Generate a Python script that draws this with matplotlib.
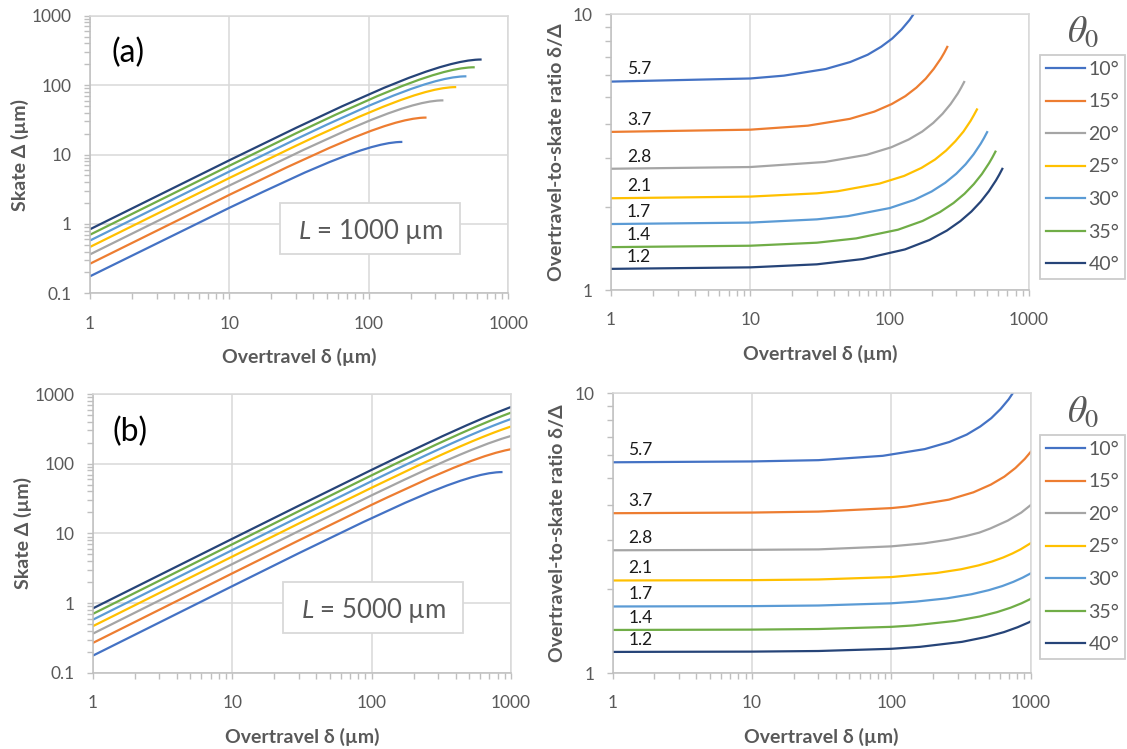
import matplotlib
matplotlib.use("Agg")
import matplotlib.pyplot as plt
from matplotlib.patches import Rectangle
from matplotlib.ticker import FixedLocator, FixedFormatter, LogLocator, NullFormatter

plt.rcParams['font.family'] = ['Lato', 'DejaVu Sans']
plt.rcParams['mathtext.fontset'] = 'custom'
plt.rcParams['mathtext.it'] = 'Lato:italic'
plt.rcParams['mathtext.rm'] = 'Lato'

# ---------------- data ----------------
angles = ["10°", "15°", "20°", "25°", "30°", "35°", "40°"]
colors = ["#4472C4", "#ED7D31", "#A5A5A5", "#FFC000", "#5B9BD5", "#70AD47", "#264478"]
ratio_labels = ["5.7", "3.7", "2.8", "2.1", "1.7", "1.4", "1.2"]

# panel (a): L = 1000 um
delta_a = [
    [1, 10, 17.4, 34.7, 52.1, 69.5, 86.8, 104.2, 121.6, 138.9, 156.3, 165.0, 173.6],
    [1, 10, 25.9, 51.8, 77.6, 103.5, 129.4, 155.3, 181.2, 207.1, 232.9, 245.9, 258.8],
    [1, 10, 34.2, 68.4, 102.6, 136.8, 171.0, 205.2, 239.4, 273.6, 307.8, 324.9, 342.0],
    [1, 10, 30, 42.3, 84.5, 126.8, 169.0, 211.3, 253.6, 295.8, 338.1, 380.4, 401.5, 422.6],
    [1, 10, 30, 50, 100, 150, 200, 250, 300, 350, 400, 450, 475, 500],
    [1, 10, 30, 57.4, 114.7, 172.1, 229.4, 286.8, 344.1, 401.5, 458.9, 516.2, 544.9, 573.6],
    [1, 10, 30, 64.3, 128.6, 192.8, 257.1, 321.4, 385.7, 450.0, 514.2, 578.5, 610.6, 642.8],
]
skate_a = [
    [0.176, 1.71, 2.90, 5.50, 7.78, 9.75, 11.42, 12.78, 13.83, 14.59, 15.04, 15.15, 15.19],
    [0.267, 2.63, 6.57, 12.40, 17.53, 21.94, 25.67, 28.70, 31.06, 32.73, 33.74, 33.99, 34.07],
    [0.364, 3.58, 11.75, 22.15, 31.23, 39.03, 45.58, 50.91, 55.03, 57.97, 59.72, 60.16, 60.31],
    [0.466, 4.60, 13.39, 18.53, 34.80, 48.93, 61.01, 71.11, 79.30, 85.62, 90.11, 92.80, 93.47, 93.69],
    [0.577, 5.70, 16.64, 27.00, 50.49, 70.73, 87.91, 102.22, 113.77, 122.66, 128.96, 132.72, 133.66, 133.98],
    [0.699, 6.91, 20.22, 37.31, 69.36, 96.71, 119.76, 138.84, 154.17, 165.93, 174.25, 179.20, 180.44, 180.85],
    [0.838, 8.28, 24.21, 49.63, 91.61, 127.01, 156.59, 180.90, 200.34, 215.19, 225.66, 231.89, 233.44, 233.96],
]
ratio_a = [
    [5.69, 5.84, 5.98, 6.32, 6.70, 7.12, 7.61, 8.15, 8.79, 9.52, 10.39, 10.89, 11.43],
    [3.74, 3.81, 3.94, 4.17, 4.43, 4.72, 5.04, 5.41, 5.83, 6.33, 6.90, 7.23, 7.60],
    [2.75, 2.79, 2.91, 3.09, 3.29, 3.51, 3.75, 4.03, 4.35, 4.72, 5.15, 5.40, 5.67],
    [2.15, 2.18, 2.24, 2.28, 2.43, 2.59, 2.77, 2.97, 3.20, 3.46, 3.75, 4.10, 4.30, 4.51],
    [1.734, 1.755, 1.803, 1.852, 1.981, 2.121, 2.275, 2.446, 2.637, 2.853, 3.102, 3.391, 3.554, 3.732],
    [1.430, 1.447, 1.484, 1.538, 1.654, 1.779, 1.916, 2.066, 2.232, 2.420, 2.633, 2.881, 3.020, 3.172],
    [1.193, 1.208, 1.239, 1.295, 1.403, 1.518, 1.642, 1.777, 1.925, 2.091, 2.279, 2.495, 2.616, 2.748],
]

# panel (b): L = 5000 um
delta_b = [
    [1, 10, 30, 86.8, 173.6, 260.5, 347.3, 434.1, 520.9, 607.7, 694.6, 781.4, 824.8, 868.2],
    [1, 10, 30, 100, 129.4, 258.8, 388.2, 517.6, 647.0, 776.5, 905.9, 1000],
    [1, 10, 30, 100, 171.0, 256.5, 342.0, 427.5, 513.0, 684.0, 855.1, 1000],
    [1, 10, 30, 100, 211.3, 317.0, 422.6, 528.3, 633.9, 739.6, 845.2, 1000],
    [1, 10, 30, 100, 150, 250, 375, 500, 625, 750, 875, 1000],
    [1, 10, 30, 100, 143.4, 286.8, 430.2, 573.6, 717.0, 860.4, 1000],
    [1, 10, 30, 100, 160.7, 321.4, 482.1, 642.8, 803.5, 964.2, 1000],
]
skate_b = [
    [0.176, 1.75, 5.20, 14.52, 27.48, 38.89, 48.75, 57.08, 63.89, 69.17, 72.95, 75.21, 75.77, 75.96],
    [0.268, 2.67, 7.94, 25.73, 32.83, 62.02, 87.63, 109.71, 128.33, 143.50, 155.28, 161.71],
    [0.364, 3.63, 10.81, 35.24, 58.76, 85.58, 110.73, 134.24, 156.12, 195.12, 227.88, 250.85],
    [0.466, 4.65, 13.87, 45.32, 92.66, 134.71, 174.02, 210.65, 244.66, 276.11, 305.04, 343.0],
    [0.577, 5.76, 17.18, 56.24, 83.19, 135.02, 195.84, 252.45, 305.0, 353.62, 398.4, 439.57],
    [0.700, 6.98, 20.84, 68.25, 96.75, 186.53, 269.74, 346.78, 417.95, 483.53, 542.25],
    [0.839, 8.37, 24.97, 81.74, 129.29, 248.16, 357.5, 458.04, 550.39, 635.05, 652.96],
]
ratio_b = [
    [5.67, 5.71, 5.77, 5.98, 6.32, 6.70, 7.12, 7.61, 8.15, 8.79, 9.52, 10.39, 10.89, 11.43],
    [3.73, 3.75, 3.78, 3.89, 3.94, 4.17, 4.43, 4.72, 5.04, 5.41, 5.83, 6.18],
    [2.75, 2.76, 2.77, 2.84, 2.91, 3.00, 3.09, 3.18, 3.29, 3.51, 3.75, 3.99],
    [2.145, 2.151, 2.163, 2.206, 2.281, 2.353, 2.429, 2.508, 2.591, 2.679, 2.771, 2.916],
    [1.732, 1.737, 1.746, 1.778, 1.803, 1.852, 1.915, 1.981, 2.049, 2.121, 2.196, 2.275],
    [1.428, 1.432, 1.439, 1.465, 1.482, 1.538, 1.595, 1.654, 1.715, 1.779, 1.844],
    [1.192, 1.195, 1.201, 1.223, 1.243, 1.295, 1.349, 1.403, 1.460, 1.518, 1.532],
]

x_ticks = [1, 10, 100, 1000]
x_ticklabels = ["1", "10", "100", "1000"]
skate_ticks = [0.1, 1, 10, 100, 1000]
skate_ticklabels = ["0.1", "1", "10", "100", "1000"]
ratio_ticks = [1, 10]
ratio_ticklabels = ["1", "10"]

# ---------------- style ----------------
GRID = "#d9d9d9"
AXC = "#bfbfbf"
TXT = "#595959"

fig = plt.figure(figsize=(11.27, 7.49), dpi=100)

ax_tl = fig.add_axes([0.0799, 0.6084, 0.3712, 0.3706])
ax_tr = fig.add_axes([0.5422, 0.6128, 0.3709, 0.3685])
ax_bl = fig.add_axes([0.0823, 0.1017, 0.3712, 0.3722])
ax_br = fig.add_axes([0.5435, 0.1011, 0.3711, 0.3738])


def style_axes(ax, yticks, yticklabels, ylim, ylabel, ylabelpad):
    ax.set_xscale("log")
    ax.set_yscale("log")
    ax.set_xlim(1, 1000)
    ax.set_ylim(*ylim)
    ax.xaxis.set_major_locator(FixedLocator(x_ticks))
    ax.xaxis.set_major_formatter(FixedFormatter(x_ticklabels))
    ax.xaxis.set_minor_locator(LogLocator(base=10, subs=range(2, 10)))
    ax.xaxis.set_minor_formatter(NullFormatter())
    ax.yaxis.set_major_locator(FixedLocator(yticks))
    ax.yaxis.set_major_formatter(FixedFormatter(yticklabels))
    ax.yaxis.set_minor_locator(LogLocator(base=10, subs=range(2, 10)))
    ax.yaxis.set_minor_formatter(NullFormatter())
    ax.grid(True, which="major", color=GRID, lw=1.1)
    ax.set_axisbelow(True)
    for side in ["top", "right"]:
        ax.spines[side].set_color(GRID)
        ax.spines[side].set_linewidth(1.1)
    for side in ["left", "bottom"]:
        ax.spines[side].set_color(AXC)
        ax.spines[side].set_linewidth(1.1)
    ax.tick_params(which="both", direction="out", color=AXC, width=1.0,
                   labelsize=12.5, labelcolor=TXT)
    ax.tick_params(axis="x", which="both", length=4, pad=12)
    ax.tick_params(axis="y", which="both", length=4, pad=9)
    ax.set_xlabel("Overtravel δ (µm)", fontsize=14, fontweight="bold", color=TXT, labelpad=12)
    ax.set_ylabel(ylabel, fontsize=14, fontweight="bold", color=TXT, labelpad=ylabelpad)


for ax, deltas, skates, tag, Ltxt in [
    (ax_tl, delta_a, skate_a, "(a)", "$L$ = 1000 µm"),
    (ax_bl, delta_b, skate_b, "(b)", "$L$ = 5000 µm"),
]:
    style_axes(ax, skate_ticks, skate_ticklabels, (0.1, 1000), "Skate Δ (µm)", 2)
    for d, s, c in zip(deltas, skates, colors):
        ax.plot(d, s, color=c, lw=1.6, solid_capstyle="butt")
    ax.text(0.09, 0.865, tag, transform=ax.transAxes, fontsize=23, color="black",
            ha="center", va="center")
    ax.add_patch(Rectangle((0.455, 0.143), 0.430, 0.183, transform=ax.transAxes,
                           fc="white", ec=GRID, lw=1.3, zorder=5))
    ax.text(0.670, 0.2345, Ltxt, transform=ax.transAxes, fontsize=18.5,
            color=TXT, ha="center", va="center_baseline", zorder=6)

for ax, deltas, ratios, leg_top in [
    (ax_tr, delta_a, ratio_a, 1 - 55 / 749),
    (ax_br, delta_b, ratio_b, 1 - 435 / 749),
]:
    style_axes(ax, ratio_ticks, ratio_ticklabels, (1, 10),
               "Overtravel-to-skate ratio δ/Δ", 6)
    handles = []
    for d, r, c, lab, txt in zip(deltas, ratios, colors, angles, ratio_labels):
        h, = ax.plot(d, r, color=c, lw=1.6, label=lab)
        handles.append(h)
        ax.annotate(txt, xy=(1.3, r[0]), xytext=(0, 3), textcoords="offset points",
                    ha="left", va="bottom", fontsize=12.5, color="#1a1a1a")
    leg = ax.legend(handles=handles, loc="upper left",
                    bbox_to_anchor=(0.9228, leg_top), bbox_transform=fig.transFigure,
                    fontsize=14, frameon=True, fancybox=False, borderaxespad=0,
                    handlelength=2.0, handletextpad=0.2, labelspacing=0.8,
                    borderpad=0.3)
    leg.get_frame().set_edgecolor(AXC)
    leg.get_frame().set_linewidth(1.3)
    for t in leg.get_texts():
        t.set_color(TXT)
    fig.text(0.961, leg_top + 0.0315, r"$\theta_0$", math_fontfamily="stix",
             fontsize=27, color=TXT, ha="center", va="center")

fig.savefig("out.png", dpi=100)
